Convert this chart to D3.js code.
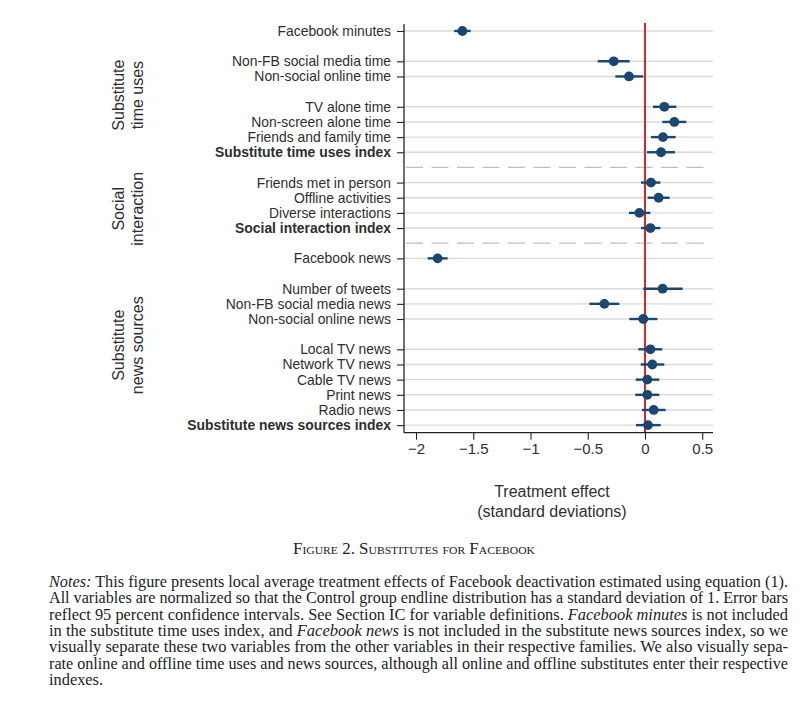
<!DOCTYPE html>
<html>
<head>
<meta charset="utf-8">
<title>Substitutes for Facebook</title>
<script src="https://cdn.jsdelivr.net/npm/d3@7"></script>
<style>
  body { margin: 0; background: #fff; }
  svg text { font-family: "Liberation Sans", Arial, sans-serif; fill: #2e2e2e; }
  .notes text { font-family: "Liberation Serif", "Times New Roman", serif; fill: #222; }
</style>
</head>
<body>
<div id="chart"></div>
<script>
// rows: label, slot (row position from top), bold flag
var labels = ["Facebook minutes", "Non-FB social media time", "Non-social online time",
  "TV alone time", "Non-screen alone time", "Friends and family time", "Substitute time uses index",
  "Friends met in person", "Offline activities", "Diverse interactions", "Social interaction index",
  "Facebook news", "Number of tweets", "Non-FB social media news", "Non-social online news",
  "Local TV news", "Network TV news", "Cable TV news", "Print news", "Radio news",
  "Substitute news sources index"];
var slots = [0, 2, 3, 5, 6, 7, 8, 10, 11, 12, 13, 15, 17, 18, 19, 21, 22, 23, 24, 25, 26];
var bold = [6, 10, 20];

// point estimates and 95% CI
var estimate = [-1.595, -0.273, -0.140, 0.169, 0.256, 0.157, 0.140,
  0.052, 0.119, -0.049, 0.047,
  -1.811, 0.154, -0.355, -0.015, 0.047, 0.064, 0.020, 0.020, 0.076, 0.026];
var ciLow = [-1.666, -0.413, -0.259, 0.070, 0.151, 0.052, 0.017,
  -0.035, 0.023, -0.140, -0.035,
  -1.898, -0.015, -0.486, -0.137, -0.058, -0.038, -0.081, -0.085, -0.026, -0.079];
var ciHigh = [-1.523, -0.134, -0.015, 0.274, 0.361, 0.268, 0.262,
  0.134, 0.215, 0.047, 0.134,
  -1.724, 0.329, -0.224, 0.108, 0.151, 0.169, 0.125, 0.125, 0.180, 0.137];

var separators = [9, 14];
var groups = [
  {lines: ["Substitute", "time uses"], first: 0, last: 8},
  {lines: ["Social", "interaction"], first: 10, last: 13},
  {lines: ["Substitute", "news sources"], first: 15, last: 26}
];
var xTicks = [-2, -1.5, -1, -0.5, 0, 0.5];

var W = 805, H = 712;
var svg = d3.select("#chart").append("svg")
  .attr("width", W).attr("height", H);

var x = d3.scaleLinear().domain([-2.105, 0.594]).range([404, 713]);
var y = d3.scaleLinear().domain([-0.5, 26.5]).range([23.4, 432.7]);

// gridlines
svg.append("g").selectAll("line")
  .data(slots).enter().append("line")
    .attr("x1", 404).attr("x2", 713)
    .attr("y1", function(d) { return y(d); })
    .attr("y2", function(d) { return y(d); })
    .attr("stroke", "#dadada").attr("stroke-width", 1.4);

// dashed group separators
svg.append("g").selectAll("line")
  .data(separators).enter().append("line")
    .attr("x1", 406).attr("x2", 710)
    .attr("y1", function(d) { return y(d); })
    .attr("y2", function(d) { return y(d); })
    .attr("stroke", "#bdbdbd").attr("stroke-width", 1.2)
    .attr("stroke-dasharray", "17,8.5");

// zero line
svg.append("line")
  .attr("x1", x(0)).attr("x2", x(0))
  .attr("y1", 23).attr("y2", 432.7)
  .attr("stroke", "#d7262b").attr("stroke-width", 2);

// y axis
var yAxis = d3.axisLeft(y).tickValues(slots).tickSize(7).tickPadding(6)
  .tickFormat(function(d) { return labels[slots.indexOf(d)]; });
var gy = svg.append("g").attr("transform", "translate(404,0)").call(yAxis);
gy.select(".domain").attr("d", "M0,24V432.7").attr("stroke", "#222").attr("stroke-width", 1.3);
gy.selectAll(".tick line").attr("stroke", "#222").attr("stroke-width", 1.1);
gy.selectAll(".tick text")
  .style("font-family", "'Liberation Sans', Arial, sans-serif")
  .style("font-size", "13.9px")
  .attr("fill", "#2e2e2e")
  .style("font-weight", function(d) { return bold.indexOf(slots.indexOf(d)) >= 0 ? "bold" : "normal"; });

// x axis
var xAxis = d3.axisBottom(x).tickValues(xTicks).tickSize(7).tickPadding(4)
  .tickFormat(function(d) { return d3.format("")(d).replace("-", "\u2212"); });
var gx = svg.append("g").attr("transform", "translate(0,432.7)").call(xAxis);
gx.select(".domain").attr("d", "M404,0H713").attr("stroke", "#222").attr("stroke-width", 1.3);
gx.selectAll(".tick line").attr("stroke", "#222").attr("stroke-width", 1.1);
gx.selectAll(".tick text")
  .style("font-family", "'Liberation Sans', Arial, sans-serif")
  .style("font-size", "15px")
  .attr("fill", "#2e2e2e");

// x axis title
svg.append("text").attr("x", 552).attr("y", 497)
  .attr("text-anchor", "middle").style("font-size", "16px")
  .text("Treatment effect");
svg.append("text").attr("x", 552).attr("y", 517)
  .attr("text-anchor", "middle").style("font-size", "16px")
  .text("(standard deviations)");

// group labels, rotated
groups.forEach(function(g) {
  var cy = (y(g.first) + y(g.last)) / 2 + 3.5;
  g.lines.forEach(function(t, i) {
    svg.append("text")
      .attr("transform", "translate(" + (124 + i * 19) + "," + cy + ") rotate(-90)")
      .attr("text-anchor", "middle")
      .style("font-size", "16px")
      .text(t);
  });
});

// confidence intervals
svg.append("g").selectAll("line")
  .data(estimate).enter().append("line")
    .attr("x1", function(d, i) { return x(ciLow[i]); })
    .attr("x2", function(d, i) { return x(ciHigh[i]); })
    .attr("y1", function(d, i) { return y(slots[i]); })
    .attr("y2", function(d, i) { return y(slots[i]); })
    .attr("stroke", "#1a476f").attr("stroke-width", 2.4);

// point estimates
svg.append("g").selectAll("circle")
  .data(estimate).enter().append("circle")
    .attr("cx", function(d) { return x(d); })
    .attr("cy", function(d, i) { return y(slots[i]); })
    .attr("r", 4.9)
    .attr("fill", "#1a476f");

// caption and notes
var notes = svg.append("g").attr("class", "notes");
notes.append("text").attr("x", 414).attr("y", 554)
  .attr("text-anchor", "middle")
  .attr("textLength", 242).attr("lengthAdjust", "spacingAndGlyphs")
  .style("font-size", "16px").style("font-variant", "small-caps")
  .text("Figure 2. Substitutes for Facebook");

var noteLines = [
  [["i", "Notes:"], ["n", " This figure presents local average treatment effects of Facebook deactivation estimated using equation (1)."]],
  [["n", "All variables are normalized so that the Control group endline distribution has a standard deviation of 1. Error bars"]],
  [["n", "reflect 95 percent confidence intervals. See Section IC for variable definitions. "], ["i", "Facebook minutes"], ["n", " is not included"]],
  [["n", "in the substitute time uses index, and "], ["i", "Facebook news"], ["n", " is not included in the substitute news sources index, so we"]],
  [["n", "visually separate these two variables from the other variables in their respective families. We also visually sepa-"]],
  [["n", "rate online and offline time uses and news sources, although all online and offline substitutes enter their respective"]],
  [["n", "indexes."]]
];
noteLines.forEach(function(parts, i) {
  var last = i === noteLines.length - 1;
  var t = notes.append("text").attr("x", 49).attr("y", 587 + i * 16.3)
    .style("font-size", "16px")
    .attr("textLength", last ? 54 : 739)
    .attr("lengthAdjust", "spacingAndGlyphs");
  parts.forEach(function(p) {
    t.append("tspan").style("font-style", p[0] === "i" ? "italic" : "normal").text(p[1]);
  });
});
</script>
</body>
</html>
